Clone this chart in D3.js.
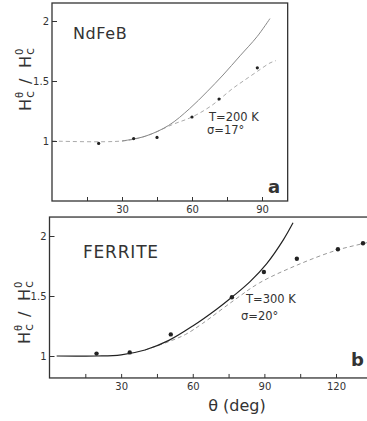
<!DOCTYPE html>
<html>
<head>
<meta charset="utf-8">
<script src="https://cdn.jsdelivr.net/npm/d3@7"></script>
<style>
  body { margin: 0; background: #fff; }
  svg text { font-family: "DejaVu Sans", sans-serif; fill: #333; }
</style>
</head>
<body>
<div id="chart"></div>
<script>
// ---- data ----
const thetaTicksA = [15, 30, 45, 60, 75, 90];
const thetaTicksB = [15, 30, 45, 60, 75, 90, 105, 120];
const ratioTicks = [1, 1.5, 2];

const thetaRangeA = [0, 101];
const ratioRangeA = [0.5, 2.15];
const thetaRangeB = [0, 134.5];
const ratioRangeB = [0.817, 2.158];

// NdFeB, T = 200 K, sigma = 17 deg
const ndfebPoints = [[20, 0.98], [35, 1.02], [45, 1.03], [60, 1.2], [71.6, 1.35], [88, 1.61]];
const ndfebSolid = [[30, 1.0], [40, 1.04], [50, 1.13], [59, 1.27], [66.4, 1.41], [73.3, 1.55], [80.6, 1.71], [87.9, 1.87], [93.4, 2.02]];
const ndfebDashed = [[0, 1.0], [30, 1.0], [40, 1.04], [52, 1.14], [60, 1.2], [68, 1.29], [77.6, 1.44], [82, 1.5], [88, 1.58], [93.4, 1.65], [96, 1.67]];

// FERRITE, T = 300 K, sigma = 20 deg
const ferritePoints = [[19.7, 1.02], [33.6, 1.03], [50.8, 1.18], [76.4, 1.49], [89.8, 1.7], [103.6, 1.81], [120.8, 1.89], [131.3, 1.94]];
const ferriteSolid = [[3, 1.0], [20, 1.0], [30, 1.01], [40, 1.05], [50, 1.13], [60, 1.25], [70, 1.39], [77, 1.5], [84, 1.62], [91, 1.77], [98, 1.97], [102, 2.11]];
const ferriteDashed = [[40, 1.05], [50, 1.12], [57, 1.18], [64, 1.27], [77, 1.46], [88, 1.61], [104, 1.76], [120, 1.88], [132, 1.94], [136, 1.96]];

const width = 367, height = 421;

const svg = d3.select("#chart").append("svg")
  .attr("width", width)
  .attr("height", height);

/**
 * Rotated y label  H_c^theta / H_c^0, pieces placed along the rotated axis
 */
function drawRatioLabel(g, cx, cy) {
  const lab = g.append("g")
    .attr("transform", `translate(${cx},${cy}) rotate(-90)`)
    .attr("fill", "#444");
  const piece = (txt, x, y, size) =>
    lab.append("text").attr("x", x).attr("y", y).attr("font-size", size).attr("fill", "#444").text(txt);
  piece("H", -34, 0, 16);
  piece("c", -21, 3, 13);
  piece("θ", -21, -8, 10);
  piece("/", -7, 0, 16);
  piece("H", 9, 0, 16);
  piece("c", 22, 3, 13);
  piece("0", 22, -8, 10);
}

/**
 * Draw one panel: frame, inward ticks, curves, points and texts
 */
function drawPanel(opts) {
  const { x, y, ticks, points, solid, dashed, solidColor, dashedColor, dotR } = opts;
  const g = svg.append("g");

  const x0 = x(opts.thetaRange[0]), x1 = x(opts.thetaRange[1]);
  const y0 = y(opts.ratioRange[0]), y1 = y(opts.ratioRange[1]);

  // clip so curves stay inside the frame
  const clipId = "clip-" + opts.name;
  svg.append("clipPath").attr("id", clipId)
    .append("rect").attr("x", x0).attr("y", y1).attr("width", x1 - x0).attr("height", y0 - y1);

  const line = d3.line()
    .x((d) => x(d[0]))
    .y((d) => y(d[1]))
    .curve(d3.curveCatmullRom.alpha(0.5));

  const plot = g.append("g").attr("clip-path", `url(#${clipId})`);

  plot.append("path")
    .attr("d", line(dashed))
    .attr("fill", "none")
    .attr("stroke", dashedColor)
    .attr("stroke-width", 1)
    .attr("stroke-dasharray", "4,3");

  plot.append("path")
    .attr("d", line(solid))
    .attr("fill", "none")
    .attr("stroke", solidColor)
    .attr("stroke-width", opts.solidWidth);

  plot.selectAll("circle")
    .data(points)
    .enter().append("circle")
    .attr("cx", (d) => x(d[0]))
    .attr("cy", (d) => y(d[1]))
    .attr("r", dotR)
    .attr("fill", "#222");

  // bottom axis, ticks pointing inward
  const xAxis = d3.axisBottom(x)
    .tickValues(ticks)
    .tickSize(-4)
    .tickPadding(5)
    .tickFormat((d) => (d % 30 === 0 ? d : ""));
  const gx = g.append("g").attr("transform", `translate(0,${y0})`).call(xAxis);
  gx.select(".domain").remove();
  gx.selectAll("line").attr("stroke", "#333");
  gx.selectAll("text").attr("font-size", 10).attr("fill", "#333");

  // left axis, ticks pointing inward
  const yAxis = d3.axisLeft(y)
    .tickValues(ratioTicks)
    .tickSize(-5)
    .tickPadding(3)
    .tickFormat((d) => d);
  const gy = g.append("g").attr("transform", `translate(${x0},0)`).call(yAxis);
  gy.select(".domain").remove();
  gy.selectAll("line").attr("stroke", "#333");
  gy.selectAll("text").attr("font-size", 10).attr("fill", "#333");

  // frame
  g.append("rect")
    .attr("x", x0).attr("y", y1)
    .attr("width", x1 - x0).attr("height", y0 - y1)
    .attr("fill", "none")
    .attr("stroke", "#333")
    .attr("stroke-width", 1.3);

  drawRatioLabel(g, opts.ylabelX, opts.ylabelY);

  // material name
  g.append("text")
    .attr("x", opts.nameX).attr("y", opts.nameY)
    .attr("font-size", opts.nameSize)
    .attr("letter-spacing", opts.nameSpacing)
    .attr("fill", "#444")
    .text(opts.name);

  // temperature / sigma
  g.append("text")
    .attr("x", opts.tX).attr("y", opts.tY)
    .attr("font-size", 11.5)
    .attr("fill", "#444")
    .text(opts.tLabel);
  g.append("text")
    .attr("x", opts.sX).attr("y", opts.sY)
    .attr("font-size", 11.5)
    .attr("fill", "#444")
    .text(opts.sLabel);

  // panel letter
  g.append("text")
    .attr("x", opts.letterX).attr("y", opts.letterY)
    .attr("font-size", 18)
    .attr("font-weight", "bold")
    .attr("fill", "#111")
    .text(opts.letter);
}

const xA = d3.scaleLinear().domain([0, 90]).range([52, 262]);
const yA = d3.scaleLinear().domain([1, 2]).range([141, 21]);
const xB = d3.scaleLinear().domain([0, 120]).range([49.5, 336]);
const yB = d3.scaleLinear().domain([1, 2]).range([356, 236]);

drawPanel({
  name: "NdFeB", x: xA, y: yA, ticks: thetaTicksA,
  thetaRange: thetaRangeA, ratioRange: ratioRangeA,
  points: ndfebPoints, solid: ndfebSolid, dashed: ndfebDashed,
  solidColor: "#888", dashedColor: "#aaa", solidWidth: 1, dotR: 1.6,
  ylabelX: 31, ylabelY: 77,
  nameX: 73, nameY: 39, nameSize: 16, nameSpacing: 0.6,
  tLabel: "T=200 K", tX: 209, tY: 121,
  sLabel: "σ=17°", sX: 207, sY: 134,
  letter: "a", letterX: 268, letterY: 193
});

drawPanel({
  name: "FERRITE", x: xB, y: yB, ticks: thetaTicksB,
  thetaRange: thetaRangeB, ratioRange: ratioRangeB,
  points: ferritePoints, solid: ferriteSolid, dashed: ferriteDashed,
  solidColor: "#222", dashedColor: "#999", solidWidth: 1.2, dotR: 2.2,
  ylabelX: 30, ylabelY: 310,
  nameX: 83, nameY: 258, nameSize: 17, nameSpacing: 0.8,
  tLabel: "T=300 K", tX: 246, tY: 303,
  sLabel: "σ=20°", sX: 241, sY: 320,
  letter: "b", letterX: 351, letterY: 366
});

// shared x label
svg.append("text")
  .attr("x", 237).attr("y", 411)
  .attr("text-anchor", "middle")
  .attr("font-size", 16)
  .attr("fill", "#444")
  .text("θ (deg)");
</script>
</body>
</html>
